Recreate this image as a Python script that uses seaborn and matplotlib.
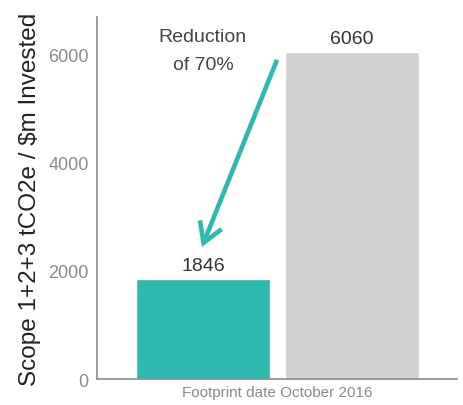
import matplotlib
matplotlib.use('Agg')
import matplotlib.pyplot as plt
import seaborn as sns
import pandas as pd

# data
categories = ['Portfolio', 'Benchmark']
values = [1846, 6060]
bar_colors = ['#2db8b0', '#d0d0d0']
y_ticks = [0, 2000, 4000, 6000]

df = pd.DataFrame({'cat': categories, 'val': values})

sns.set_theme(style='white')
plt.rcParams['font.family'] = ['Liberation Sans', 'DejaVu Sans']

fig = plt.figure(figsize=(4.63, 4.06), dpi=100)
ax = fig.add_axes([0.2095, 0.064, 0.7775, 0.8917])

sns.barplot(data=df, x='cat', y='val', hue='cat', palette=bar_colors,
            width=0.9, legend=False, ax=ax, saturation=1)

ax.set_xlim(-0.711, 1.705)
ax.set_ylim(0, 6700)
ax.set_yticks(y_ticks)
ax.set_yticklabels([str(t) for t in y_ticks], color='#8a8a8a', fontsize=13)
ax.set_xticks([])
ax.tick_params(axis='y', length=0, pad=6)

for s in ['top', 'right']:
    ax.spines[s].set_visible(False)
for s in ['left', 'bottom']:
    ax.spines[s].set_color('#8a8a8a')
    ax.spines[s].set_linewidth(1.2)

# value labels
for i, v in enumerate(values):
    ax.text(i, v + 90, str(v), ha='center', va='bottom', fontsize=14, color='#333333')

ax.set_ylabel('Scope 1+2+3 tCO2e / $m Invested', fontsize=17.5, color='#222222', labelpad=5)
ax.set_xlabel('Footprint date October 2016', fontsize=11, color='#8a8a8a', labelpad=4)

ax.text(0, 6500, 'Reduction\nof 70%', ha='center', va='top', fontsize=14,
        color='#444444', linespacing=1.85)

ax.annotate('', xy=(-0.007, 2444), xytext=(0.497, 5907),
            arrowprops=dict(arrowstyle='->,head_length=0.7,head_width=0.42',
                            mutation_scale=20, color='#2db8b0', lw=3.3,
                            shrinkA=0, shrinkB=0, joinstyle='miter',
                            capstyle='butt'))

fig.savefig('out.png', dpi=100)
